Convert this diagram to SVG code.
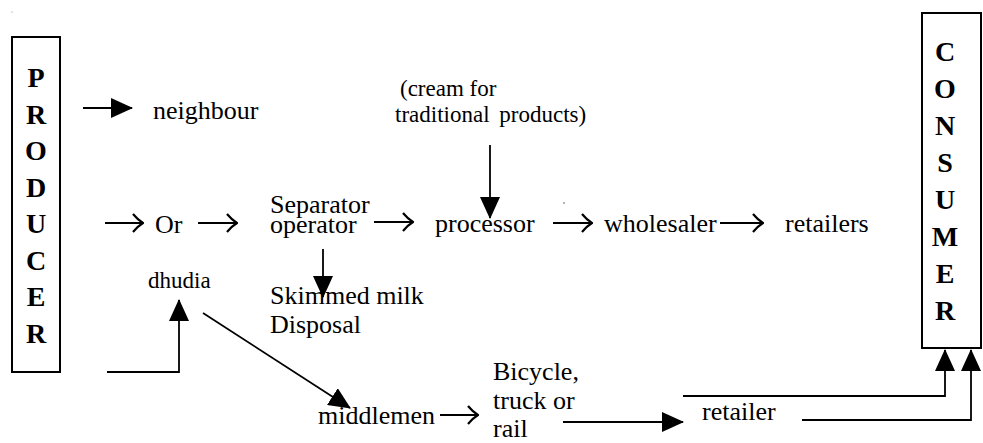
<svg xmlns="http://www.w3.org/2000/svg" width="983" height="443" viewBox="0 0 983 443">
<style>
text{font-family:"Liberation Serif","Times New Roman",serif;fill:#000;}
.t{font-size:26px;}
.s{font-size:23px;}
.b{font-size:28px;font-weight:bold;text-anchor:middle;}
.box{fill:#fff;stroke:#000;stroke-width:2;}
.ln{fill:none;stroke:#000;stroke-width:1.8;}
.fa{marker-end:url(#ah);}
.oa{marker-end:url(#oa);}
</style>
<defs>
<marker id="ah" viewBox="0 0 22 20" refX="21" refY="10" markerWidth="22" markerHeight="20" markerUnits="userSpaceOnUse" orient="auto"><path d="M0 0 L22 10 L0 20 Z" fill="#000"/></marker>
<marker id="oa" viewBox="0 0 12 20" refX="11" refY="10" markerWidth="12" markerHeight="20" markerUnits="userSpaceOnUse" orient="auto"><path d="M1 1 Q6 7 11 10 Q6 13 1 19" fill="none" stroke="#000" stroke-width="2.2"/></marker>
</defs>
<rect width="983" height="443" fill="#fff"/>
<circle cx="12" cy="12" r="0.6" fill="#888"/>
<circle cx="564" cy="203" r="0.8" fill="#555"/>
<g id="producer">
<rect class="box" x="12" y="37" width="48" height="335"/>
<text class="b" x="36" y="87">P</text>
<text class="b" x="36" y="123.5">R</text>
<text class="b" x="36" y="160">O</text>
<text class="b" x="36" y="196.5">D</text>
<text class="b" x="36" y="233">U</text>
<text class="b" x="36" y="269.5">C</text>
<text class="b" x="36" y="306">E</text>
<text class="b" x="36" y="342.5">R</text>
</g>
<g id="consumer">
<rect class="box" x="922" y="13" width="59" height="335"/>
<text class="b" x="945" y="61">C</text>
<text class="b" x="945" y="98">O</text>
<text class="b" x="945" y="135">N</text>
<text class="b" x="945" y="172">S</text>
<text class="b" x="945" y="209">U</text>
<text class="b" x="945" y="246">M</text>
<text class="b" x="945" y="283">E</text>
<text class="b" x="945" y="320">R</text>
</g>
<g id="neighbour"><text class="t" x="153" y="119">neighbour</text></g>
<g id="or"><text class="t" x="155" y="233">Or</text></g>
<g id="separator"><text class="t" x="270" y="213">Separator</text><text class="t" x="270" y="233">operator</text></g>
<g id="processor"><text class="t" x="435" y="232">processor</text></g>
<g id="wholesaler"><text class="t" x="604" y="232">wholesaler</text></g>
<g id="retailers"><text class="t" x="785" y="232">retailers</text></g>
<g id="cream"><text class="s" x="400" y="96">(cream for</text><text class="s" x="395" y="122" word-spacing="4">traditional products)</text></g>
<g id="skimmed"><text class="t" x="270" y="304">Skimmed milk</text><text class="t" x="270" y="333">Disposal</text></g>
<g id="dhudia"><text class="s" x="148" y="288" fill="#222">dhudia</text></g>
<g id="middlemen"><text class="t" x="318" y="424">middlemen</text></g>
<g id="transport"><text class="t" x="493" y="380">Bicycle,</text><text class="t" x="493" y="409">truck or</text><text class="t" x="493" y="437">rail</text></g>
<g id="retailer"><text class="t" x="702" y="420">retailer</text></g>
<g id="connectors">
<path class="ln fa" d="M83 108 H132"/>
<path class="ln oa" d="M105 223 H143"/>
<path class="ln oa" d="M198 223 H237"/>
<path class="ln oa" d="M374 222 H413"/>
<path class="ln oa" d="M553 223 H592"/>
<path class="ln oa" d="M720 223 H763"/>
<path class="ln oa" d="M440 415 H478"/>
<path class="ln fa" d="M490 145 V218"/>
<path class="ln fa" d="M323 249 V297"/>
<path class="ln fa" d="M107 372 H179 V300"/>
<path class="ln fa" d="M203 313 L350 408"/>
<path class="ln fa" d="M563 422 H683"/>
<path class="ln fa" d="M683 396 H945 V350"/>
<path class="ln fa" d="M802 420 H971 V350"/>
</g>
</svg>
